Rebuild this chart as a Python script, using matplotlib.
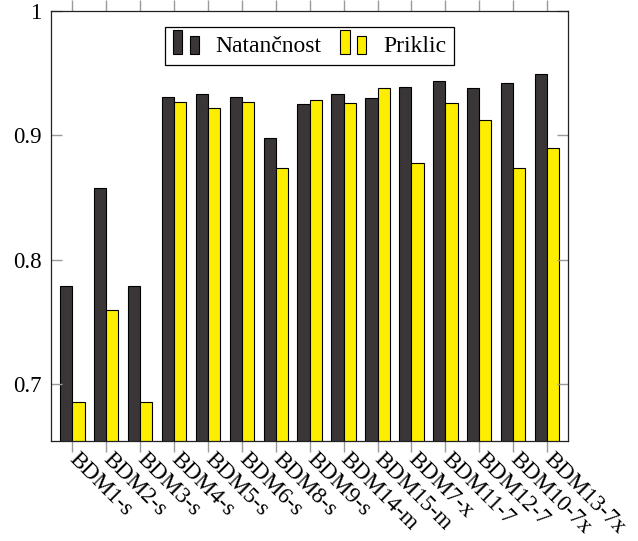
import matplotlib
matplotlib.use('Agg')
import matplotlib.pyplot as plt
import numpy as np
from matplotlib.legend_handler import HandlerBase
from matplotlib.patches import Rectangle, Patch

categories = ['BDM1-s', 'BDM2-s', 'BDM3-s', 'BDM4-s', 'BDM5-s', 'BDM6-s',
              'BDM8-s', 'BDM9-s', 'BDM14-m', 'BDM15-m', 'BDM7-x', 'BDM11-7',
              'BDM12-7', 'BDM10-7x', 'BDM13-7x']
natancnost = [0.779, 0.858, 0.779, 0.931, 0.933, 0.931, 0.898, 0.925,
              0.933, 0.930, 0.939, 0.944, 0.938, 0.942, 0.949]
priklic = [0.686, 0.760, 0.686, 0.927, 0.922, 0.927, 0.874, 0.928,
           0.926, 0.938, 0.878, 0.926, 0.912, 0.874, 0.890]

DARK = '#3a3637'
YELLOW = '#fdee00'

plt.rcParams['font.family'] = ['Liberation Serif', 'DejaVu Serif']


class HandlerTwoBars(HandlerBase):
    # pgfplots style ybar legend image: two small bars
    def create_artists(self, legend, orig_handle, xdescent, ydescent,
                       width, height, fontsize, trans):
        fc = orig_handle.get_facecolor()
        w = width * 0.36
        h1 = height * 1.45
        h2 = height * 1.1
        y0 = -ydescent - height * 0.15
        r1 = Rectangle((-xdescent, y0), w, h1, facecolor=fc,
                       edgecolor='black', lw=0.8, transform=trans)
        r2 = Rectangle((-xdescent + width - w, y0), w, h2, facecolor=fc,
                       edgecolor='black', lw=0.8, transform=trans)
        return [r1, r2]


fig = plt.figure(figsize=(6.38, 5.41), dpi=100)
ax = fig.add_axes([0.0795, 0.1854, 0.8115, 0.7946])

x = np.arange(len(categories))
bw = 0.36
ax.bar(x - bw / 2, natancnost, bw, color=DARK, edgecolor='black', lw=0.8,
       label='Natančnost')
ax.bar(x + bw / 2, priklic, bw, color=YELLOW, edgecolor='black', lw=0.8,
       label='Priklic')

ax.set_xlim(-0.637, len(categories) - 1 + 0.63)
ax.set_ylim(0.6547, 1.0)
ax.set_yticks([0.7, 0.8, 0.9, 1.0])
ax.set_yticklabels(['0.7', '0.8', '0.9', '1'])
ax.set_xticks(x)
ax.set_xticklabels(categories, rotation=-45, ha='left', va='center',
                   rotation_mode='anchor')

ax.tick_params(axis='x', direction='out', length=8, width=1, color='#9a9a9a',
               top=True, bottom=True, labelsize=16.5, pad=3)
ax.tick_params(axis='y', direction='in', length=8, width=1, color='#9a9a9a',
               left=True, right=True, labelsize=16.5, pad=6.5)
for s in ax.spines.values():
    s.set_linewidth(0.9)
    s.set_color('#222222')

h1 = Patch(facecolor=DARK)
h2 = Patch(facecolor=YELLOW)
leg = ax.legend([h1, h2], ['Natančnost', 'Priklic'], ncol=2,
                loc='upper center', bbox_to_anchor=(0.5, 0.963),
                handler_map={Patch: HandlerTwoBars()}, fontsize=17,
                fancybox=False, framealpha=1, edgecolor='black',
                handlelength=1.1, handletextpad=0.7, columnspacing=0.8,
                borderpad=0.35, borderaxespad=0.0)
leg.get_frame().set_linewidth(0.9)

plt.savefig('out.png', dpi=100)
